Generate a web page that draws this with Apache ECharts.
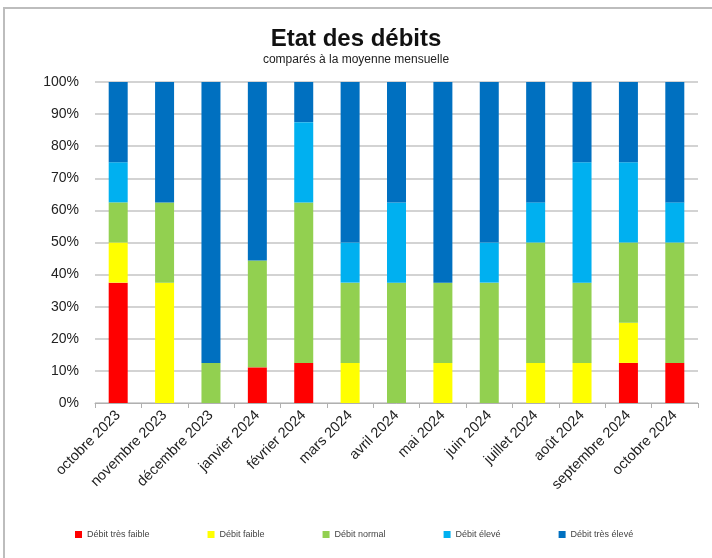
<!DOCTYPE html>
<html>
<head>
<meta charset="utf-8">
<script src="https://cdn.jsdelivr.net/npm/echarts@6/dist/echarts.min.js"></script>
<style>
  html, body { margin: 0; padding: 0; background: #fff; }
  #chart { width: 712px; height: 558px; }
</style>
</head>
<body>
<div id="chart"></div>
<script>
// mois
var months = ['octobre 2023', 'novembre 2023', 'décembre 2023', 'janvier 2024', 'février 2024', 'mars 2024',
  'avril 2024', 'mai 2024', 'juin 2024', 'juillet 2024', 'août 2024', 'septembre 2024', 'octobre 2024'];

// parts en %
var tresFaible = [37.5, 0, 0, 11.1, 12.5, 0, 0, 0, 0, 0, 0, 12.5, 12.5];
var faible     = [12.5, 37.5, 0, 0, 0, 12.5, 0, 12.5, 0, 12.5, 12.5, 12.5, 0];
var normal     = [12.5, 25, 12.5, 33.3, 50, 25, 37.5, 25, 37.5, 37.5, 25, 25, 37.5];
var eleve      = [12.5, 0, 0, 0, 25, 12.5, 25, 0, 12.5, 12.5, 37.5, 25, 12.5];
var tresEleve  = [25, 37.5, 87.5, 55.6, 12.5, 50, 37.5, 62.5, 50, 37.5, 25, 25, 37.5];

var chart = echarts.init(document.getElementById('chart'));

function serie(name, data, color) {
  return {
    name: name,
    type: 'bar',
    stack: 'total',
    barWidth: 19,
    data: data,
    itemStyle: { color: color },
    emphasis: { disabled: true }
  };
}

var option = {
  backgroundColor: '#ffffff',
  animation: false,
  title: {
    text: 'Etat des débits',
    subtext: 'comparés à la moyenne mensuelle',
    left: 'center',
    top: 22,
    itemGap: 3,
    textStyle: { fontFamily: 'Liberation Sans', fontSize: 24, fontWeight: 'bold', color: '#111' },
    subtextStyle: { fontFamily: 'Liberation Sans', fontSize: 12, color: '#222' }
  },
  graphic: [{
    type: 'rect',
    shape: { x: 4, y: 8, width: 740, height: 600 },
    style: { fill: 'none', stroke: '#bdbdbd', lineWidth: 2 },
    silent: true
  }],
  legend: {
    bottom: 14,
    left: 70,
    icon: 'rect',
    itemWidth: 7,
    itemHeight: 7,
    itemGap: 58,
    textStyle: { fontFamily: 'Liberation Sans', fontSize: 9, color: '#444' },
    data: ['Débit très faible', 'Débit faible', 'Débit normal', 'Débit élevé', 'Débit très élevé']
  },
  grid: { left: 95, right: 14, top: 82, bottom: 155 },
  xAxis: {
    type: 'category',
    data: months,
    axisLine: { lineStyle: { color: '#b0b0b0', width: 1 } },
    axisTick: { show: true, length: 5, lineStyle: { color: '#b0b0b0' } },
    axisLabel: {
      rotate: 45,
      interval: 0,
      margin: 10,
      fontFamily: 'Liberation Sans',
      fontSize: 14.5,
      color: '#222'
    }
  },
  yAxis: {
    type: 'value',
    min: 0,
    max: 100,
    interval: 10,
    axisLine: { show: false },
    axisTick: { show: false },
    splitLine: { lineStyle: { color: '#c4c4c4', width: 1.5 } },
    axisLabel: {
      formatter: '{value}%',
      margin: 16,
      fontFamily: 'Liberation Sans',
      fontSize: 14,
      color: '#222'
    }
  },
  series: [
    serie('Débit très faible', tresFaible, '#FF0000'),
    serie('Débit faible', faible, '#FFFF00'),
    serie('Débit normal', normal, '#92D050'),
    serie('Débit élevé', eleve, '#00B0F0'),
    serie('Débit très élevé', tresEleve, '#0070C0')
  ]
};

chart.setOption(option);
</script>
</body>
</html>
